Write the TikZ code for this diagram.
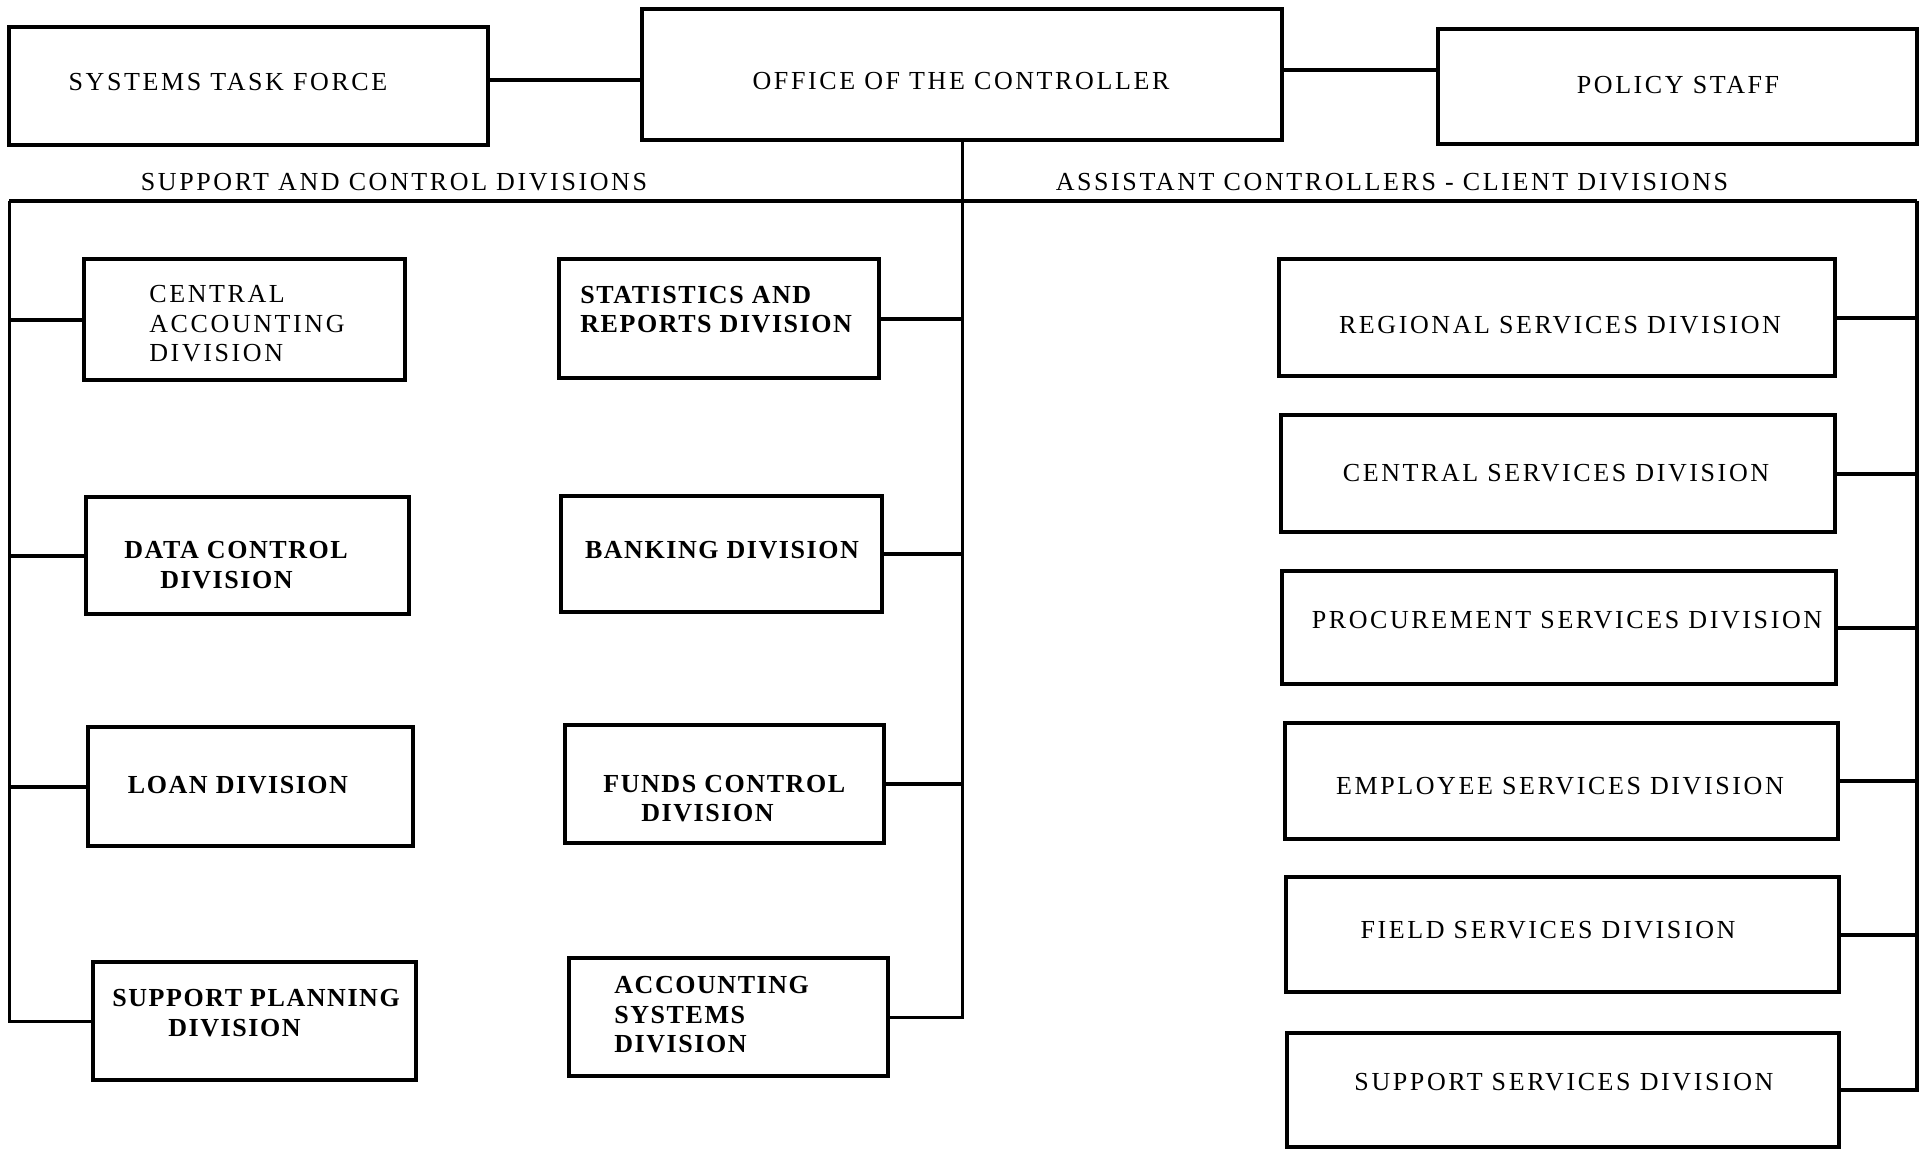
\documentclass[tikz,border=0pt]{standalone}
\usepackage{fontspec}
\setmainfont{Liberation Serif}
\usetikzlibrary{fit}
\begin{document}
\begin{tikzpicture}[x=0.5pt,y=-0.5pt,
  box/.style={draw, line width=2.1pt, inner sep=0pt, rectangle},
  conn/.style={line width=2pt},
  bus/.style={line width=1.5pt},
  lbl/.style={font=\fontsize{13}{14.75}\selectfont\addfontfeature{LetterSpace=10}, inner sep=0pt, align=left},
  blbl/.style={font=\fontsize{13}{14.75}\selectfont\bfseries\addfontfeature{LetterSpace=6}, inner sep=0pt, align=left}]
\useasboundingbox (0,0) rectangle (1926,1151);
\fill[white] (0,0) rectangle (1926,1151);

% top row
\node[box, fit={(9,27)(488,145)}] (stf) {};
\node[box, fit={(642,9)(1282,140)}] (oc) {};
\node[box, fit={(1438,29)(1917,144)}] (ps) {};

% left column
\node[box, fit={(84,259)(405,380)}] (ca) {};
\node[box, fit={(86,497)(409,614)}] (dc) {};
\node[box, fit={(88,727)(413,846)}] (ld) {};
\node[box, fit={(93,962)(416,1080)}] (sp) {};

% middle column
\node[box, fit={(559,259)(879,378)}] (sr) {};
\node[box, fit={(561,496)(882,612)}] (bk) {};
\node[box, fit={(565,725)(884,843)}] (fc) {};
\node[box, fit={(569,958)(888,1076)}] (as) {};

% right column
\node[box, fit={(1279,259)(1835,376)}] (rs) {};
\node[box, fit={(1281,415)(1835,532)}] (cs) {};
\node[box, fit={(1282,571)(1836,684)}] (pr) {};
\node[box, fit={(1285,723)(1838,839)}] (es) {};
\node[box, fit={(1286,877)(1839,992)}] (fs) {};
\node[box, fit={(1287,1033)(1839,1147)}] (ss) {};

% texts
\node[lbl] (t-stf) at (228,82) {SYSTEMS TASK FORCE};
\node[lbl] (t-oc) at (961,81) {OFFICE OF THE CONTROLLER};
\node[lbl] (t-ps) at (1678,85) {POLICY STAFF};
\node[lbl] (t-scd) at (394,182) {SUPPORT AND CONTROL DIVISIONS};
\node[lbl] (t-acd) at (1392,182) {ASSISTANT CONTROLLERS - CLIENT DIVISIONS};

\node[lbl, anchor=west] (t-ca) at (149,324) {CENTRAL\\ACCOUNTING\\DIVISION};
\node[blbl, anchor=west] (t-dc) at (124,565) {DATA CONTROL\\\hspace*{18pt}DIVISION};
\node[blbl] (t-ld) at (238,785) {LOAN DIVISION};
\node[blbl, anchor=west] (t-sp) at (112,1013) {SUPPORT PLANNING\\\hspace*{28pt}DIVISION};

\node[blbl, anchor=west] (t-sr) at (580,309.5) {STATISTICS AND\\REPORTS DIVISION};
\node[blbl] (t-bk) at (722,550) {BANKING DIVISION};
\node[blbl, anchor=west] (t-fc) at (603,798.5) {FUNDS CONTROL\\\hspace*{19pt}DIVISION};
\node[blbl, anchor=west] (t-as) at (614,1015) {ACCOUNTING\\SYSTEMS\\DIVISION};

\node[lbl] (t-rs) at (1560,325) {REGIONAL SERVICES DIVISION};
\node[lbl] (t-cs) at (1556,473) {CENTRAL SERVICES DIVISION};
\node[lbl] (t-pr) at (1567,620) {PROCUREMENT SERVICES DIVISION};
\node[lbl] (t-es) at (1560,786) {EMPLOYEE SERVICES DIVISION};
\node[lbl] (t-fs) at (1548,930) {FIELD SERVICES DIVISION};
\node[lbl] (t-ss) at (1564,1082) {SUPPORT SERVICES DIVISION};

% bus coordinates
\coordinate (tl) at (9,201);
\coordinate (tr) at (1917,201);

% connectors top
\draw[conn] ([yshift=3pt]stf.east) -- ([yshift=3pt]stf.east -| oc.west);
\draw[conn] ([yshift=2.25pt]oc.east) -- ([yshift=2.25pt]oc.east -| ps.west);
\draw[conn] (tl) -- (tr);

% middle bus
\draw[bus] (oc.south) -- (oc.south |- as.east) -- (as.east);
\draw[conn] (sr.east) -- (sr.east -| oc.south);
\draw[conn] (bk.east) -- (bk.east -| oc.south);
\draw[conn] (fc.east) -- (fc.east -| oc.south);

% left bus
\draw[bus] (tl) -- (tl |- sp.west) -- (sp.west);
\draw[conn] (ca.west) -- (ca.west -| tl);
\draw[conn] (dc.west) -- (dc.west -| tl);
\draw[conn] (ld.west) -- (ld.west -| tl);

% right bus
\draw[conn] (tr) -- (tr |- ss.east) -- (ss.east);
\draw[conn] (rs.east) -- (rs.east -| tr);
\draw[conn] (cs.east) -- (cs.east -| tr);
\draw[conn] (pr.east) -- (pr.east -| tr);
\draw[conn] (es.east) -- (es.east -| tr);
\draw[conn] (fs.east) -- (fs.east -| tr);
\end{tikzpicture}
\end{document}
